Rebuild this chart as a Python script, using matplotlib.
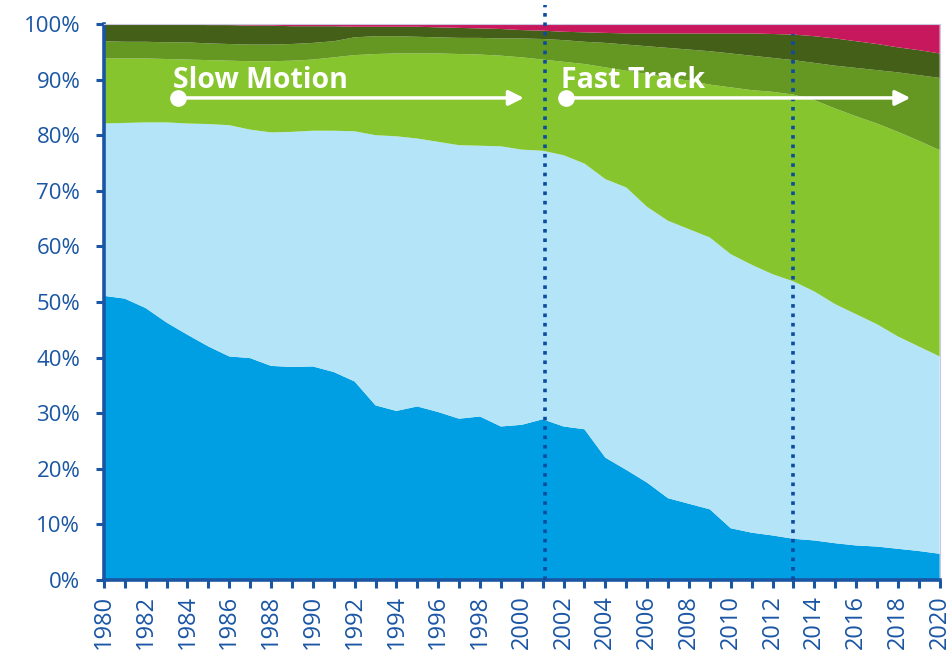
import matplotlib
matplotlib.use("Agg")
import matplotlib.pyplot as plt
import numpy as np

years = list(range(1980, 2021))

# shares (%) per year, bottom to top
series_a = [51.1, 50.6, 48.9, 46.3, 44.1, 42.0, 40.2, 39.9, 38.5, 38.3,
            38.4, 37.4, 35.7, 31.4, 30.4, 31.2, 30.2, 29.0, 29.4, 27.6,
            27.9, 28.9, 27.6, 27.1, 22.0, 19.8, 17.5, 14.7, 13.7, 12.7,
            9.3, 8.5, 8.0, 7.4, 7.1, 6.6, 6.2, 6.0, 5.6, 5.2, 4.7]
series_b = [31.0, 31.6, 33.4, 36.0, 38.0, 40.0, 41.6, 41.1, 42.0, 42.3,
            42.4, 43.4, 45.0, 48.6, 49.4, 48.2, 48.6, 49.2, 48.7, 50.4,
            49.5, 48.3, 48.8, 47.8, 50.1, 50.8, 49.6, 49.9, 49.4, 48.9,
            49.3, 48.2, 47.0, 46.3, 44.8, 43.0, 41.6, 40.0, 38.2, 36.8, 35.5]
series_c = [11.7, 11.6, 11.5, 11.4, 11.5, 11.5, 11.6, 12.3, 12.8, 12.8,
            12.8, 13.2, 13.7, 14.6, 14.9, 15.3, 15.9, 16.4, 16.4, 16.3,
            16.6, 16.4, 16.8, 17.9, 20.1, 21.0, 23.9, 25.8, 26.7, 27.5,
            30.0, 31.4, 32.8, 33.6, 34.4, 35.2, 35.6, 36.1, 36.8, 37.0, 37.1]
series_d = [3.1, 3.0, 3.0, 3.0, 3.1, 3.0, 3.0, 3.0, 3.0, 3.0,
            3.0, 2.9, 3.2, 3.2, 3.1, 3.0, 2.9, 2.9, 3.0, 3.1,
            3.4, 3.7, 3.9, 4.0, 4.4, 4.7, 5.0, 5.3, 5.6, 6.0,
            6.1, 6.2, 6.1, 6.2, 6.7, 7.7, 8.7, 9.6, 10.7, 11.8, 13.0]
series_e = [3.0, 3.1, 3.1, 3.2, 3.2, 3.3, 3.4, 3.4, 3.4, 3.2,
            3.0, 2.7, 1.9, 1.7, 1.7, 1.8, 1.8, 1.8, 1.7, 1.7,
            1.5, 1.5, 1.5, 1.7, 1.8, 2.0, 2.3, 2.6, 2.9, 3.2,
            3.6, 4.0, 4.3, 4.6, 4.8, 4.9, 4.8, 4.7, 4.5, 4.5, 4.4]
series_f = [0.1, 0.1, 0.1, 0.1, 0.1, 0.2, 0.2, 0.3, 0.3, 0.4,
            0.4, 0.4, 0.5, 0.5, 0.5, 0.5, 0.6, 0.7, 0.8, 0.9,
            1.1, 1.2, 1.4, 1.5, 1.6, 1.7, 1.7, 1.7, 1.7, 1.7,
            1.7, 1.7, 1.8, 1.9, 2.2, 2.6, 3.1, 3.6, 4.2, 4.7, 5.3]

colors = ["#009FE3", "#B3E4F7", "#86C52E", "#659823", "#435F18", "#C8185D"]

y_ticks = list(range(0, 101, 10))
y_labels = [f"{v}%" for v in y_ticks]
x_labels = list(range(1980, 2021, 2))

phase_lines = [2001.1, 2013]
phase_line_tops = [103.5, 98.2]
phase_labels = ["Slow Motion", "Fast Track"]
phase_text_x = [1983.3, 2001.9]
phase_arrow_start = [1983.55, 2002.1]
phase_arrow_end = [2000.1, 2018.6]
arrow_y = 86.7

blue = "#1A56A4"

fig = plt.figure(figsize=(9.53, 6.59), dpi=100)
ax = fig.add_axes([0.109, 0.12, 0.877, 0.8436])

ax.stackplot(years, series_a, series_b, series_c, series_d, series_e, series_f,
             colors=colors, linewidth=0)

ax.set_xlim(1980, 2020)
ax.set_ylim(0, 100)

ax.set_yticks(y_ticks)
ax.set_yticklabels(y_labels)
ax.set_xticks(years)
ax.set_xticklabels([str(y) if y in x_labels else "" for y in years], rotation=90)

for s in ["left", "bottom"]:
    ax.spines[s].set_color(blue)
    ax.spines[s].set_linewidth(2.6)
for s in ["top", "right"]:
    ax.spines[s].set_color("#C9C6DE")
    ax.spines[s].set_linewidth(0.8)

ax.tick_params(axis="both", colors=blue, direction="out", length=6, width=2.2,
               labelcolor=blue)
ax.tick_params(axis="y", pad=11, labelsize=16)
ax.tick_params(axis="x", pad=5, labelsize=17)
for lab in ax.get_xticklabels() + ax.get_yticklabels():
    lab.set_fontfamily("Open Sans")

for xv, top in zip(phase_lines, phase_line_tops):
    ax.plot([xv, xv], [0, top], color="#0B4C9E", lw=2.6,
            linestyle=(0, (1, 1.6)), dash_capstyle="butt", clip_on=False, zorder=5)

for lab, tx, xs, xe in zip(phase_labels, phase_text_x, phase_arrow_start, phase_arrow_end):
    ax.text(tx, 88.4, lab, color="white", fontsize=20.5, fontweight="bold",
            fontfamily="Open Sans", ha="left", va="baseline", zorder=6)
    ax.annotate("", xy=(xe, arrow_y), xytext=(xs, arrow_y),
                arrowprops=dict(arrowstyle="-|>,head_length=0.9,head_width=0.45",
                                color="white", lw=2.5, shrinkA=0, shrinkB=0),
                zorder=6)
    ax.plot([xs], [arrow_y], "o", color="white", markersize=11, zorder=7)

fig.savefig("out.png", dpi=100, facecolor="white")
